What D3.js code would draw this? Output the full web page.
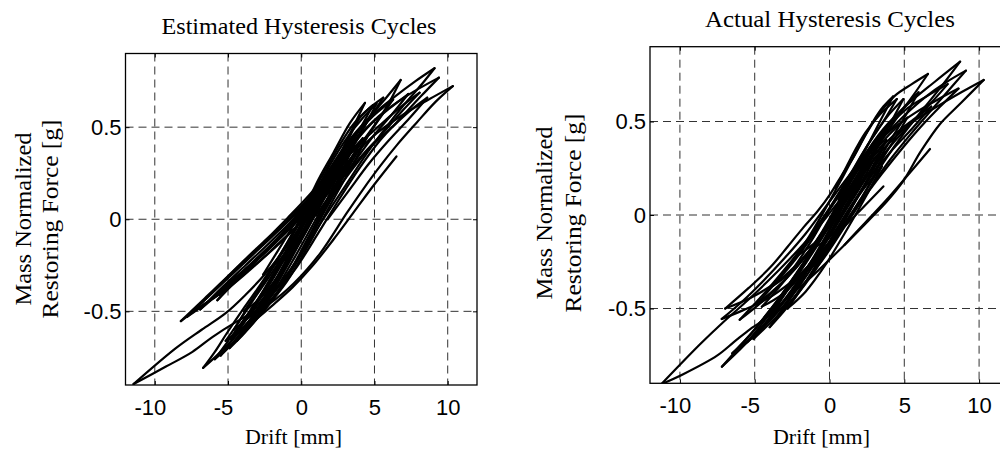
<!DOCTYPE html>
<html>
<head>
<meta charset="utf-8">
<script src="https://cdn.jsdelivr.net/npm/d3@7"></script>
<style>
  body { margin: 0; background: #fff; }
  svg { display: block; }
</style>
</head>
<body>
<div id="area"></div>
<script>
var driftTicks = [-10, -5, 0, 5, 10]
var forceTicks = [-0.5, 0, 0.5]
var driftDomain = [-12, 12]
var forceDomain = [-0.9, 0.9]

// estimated cycles, one array per loop, [drift mm, force g]
var estimatedLoops = [
  [[10.35,0.723],[9.2,0.64],[7.86,0.523],[6.5,0.40],[5.37,0.287],[4.2,0.16],[3.1,0.033],[1.29,-0.185],[-0.52,-0.349],[-2.2,-0.46],[-3.6,-0.52],[-4.5,-0.56],[-6.07,-0.64],[-7.43,-0.72],[-9.24,-0.80],[-11.45,-0.895],[-8.56,-0.70],[-6.8,-0.60],[-5.16,-0.51],[-3.8,-0.41],[-2.5,-0.30],[-1.2,-0.17],[0.2,-0.01],[1.8,0.17],[3.4,0.33],[5.2,0.47],[7,0.57],[8.7,0.65],[10.35,0.723]],
  [[-6.70,-0.807],[-5.9,-0.72],[-5.05,-0.615],[-3.9,-0.48],[-2.79,-0.355],[-1.2,-0.16],[0.39,0.07],[1.6,0.23],[3.0,0.40],[4.5,0.54],[6.3,0.66],[7.8,0.75],[9.10,0.820],[8.3,0.74],[7.0,0.62],[5.8,0.50],[4.5,0.36],[3.0,0.18],[1.5,0.0],[0,-0.19],[-1.5,-0.36],[-3.0,-0.50],[-4.3,-0.62],[-5.5,-0.72],[-6.70,-0.807]],
  [[-5.16,-0.66],[-4.2,-0.55],[-3.2,-0.43],[-2.0,-0.29],[-0.8,-0.14],[0.6,0.05],[2.0,0.24],[3.6,0.42],[5.3,0.56],[7.2,0.67],[9.40,0.769],[8.2,0.67],[6.8,0.55],[5.4,0.43],[4.0,0.28],[2.6,0.11],[1.2,-0.07],[-0.4,-0.27],[-2.0,-0.43],[-3.5,-0.56],[-5.16,-0.66]],
  [[-8.22,-0.553],[-6.6,-0.43],[-5.05,-0.313],[-3.6,-0.20],[-2.33,-0.105],[-0.9,0.01],[0.3,0.11],[1.3,0.20],[2.2,0.29],[3.3,0.42],[4.6,0.55],[5.8,0.66],[6.79,0.756],[5.9,0.62],[4.9,0.50],[3.8,0.38],[2.4,0.22],[1.0,0.08],[-0.7,-0.07],[-2.3,-0.19],[-3.8,-0.29],[-5.3,-0.39],[-6.8,-0.47],[-8.22,-0.553]],
  [[-7.43,-0.504],[-6.0,-0.39],[-4.6,-0.28],[-3.0,-0.16],[-1.5,-0.05],[0,0.07],[1.2,0.17],[2.5,0.28],[4.0,0.41],[5.5,0.52],[6.8,0.61],[8.08,0.687],[6.8,0.58],[5.6,0.47],[4.3,0.36],[3.0,0.24],[1.6,0.12],[0.2,0.0],[-1.4,-0.12],[-3.0,-0.24],[-4.6,-0.35],[-6.0,-0.43],[-7.43,-0.504]],
  [[-4.6,-0.60],[-3.6,-0.47],[-2.4,-0.32],[-1.2,-0.16],[0,0.0],[1.2,0.16],[2.4,0.32],[3.6,0.45],[4.9,0.56],[6.27,0.65],[5.2,0.53],[4.2,0.41],[3.0,0.25],[1.8,0.08],[0.6,-0.10],[-0.8,-0.28],[-2.2,-0.42],[-3.4,-0.52],[-4.6,-0.60]],
  [[4.35,0.632],[3.33,0.523],[2.19,0.36],[1.2,0.22],[0.39,0.09],[-0.5,-0.02],[-1.8,-0.13],[-3.24,-0.24],[-4.5,-0.34],[-5.73,-0.44],[-4.8,-0.36],[-3.4,-0.25],[-2.0,-0.14],[-0.8,-0.03],[0.3,0.08],[1.3,0.18],[2.3,0.30],[3.3,0.46],[4.35,0.632]],
  [[-3.9,-0.50],[-2.8,-0.37],[-1.6,-0.22],[-0.4,-0.06],[0.8,0.12],[2.0,0.30],[3.2,0.45],[4.2,0.55],[5.14,0.627],[4.3,0.50],[3.3,0.36],[2.2,0.20],[1.0,0.03],[-0.2,-0.14],[-1.5,-0.30],[-2.7,-0.42],[-3.9,-0.50]],
  [[6.5,0.341],[5.0,0.19],[3.6,0.04],[2.2,-0.11],[0.8,-0.25],[-0.6,-0.37],[-2.0,-0.47],[-3.2,-0.55]],
  [[-4.8,-0.65],[-3.5,-0.50],[-2.0,-0.32],[-0.5,-0.12],[1.0,0.10],[2.5,0.30],[1.2,0.08],[-0.3,-0.15],[-1.8,-0.36],[-3.3,-0.53],[-4.8,-0.65]],
  [[-4.4,-0.66],[-3.0,-0.50],[-1.6,-0.32],[0,-0.10],[1.5,0.12],[3.0,0.32],[4.6,0.46],[3.4,0.28],[2.0,0.08],[0.5,-0.14],[-1.0,-0.34],[-2.6,-0.50],[-4.4,-0.66]],
  [[-2.6,-0.30],[-1.2,-0.12],[0.2,0.06],[1.6,0.22],[3.0,0.36],[1.8,0.18],[0.4,0.0],[-1.0,-0.18],[-2.6,-0.30]],
  [[-1.5,-0.25],[-0.2,-0.06],[1.0,0.12],[2.4,0.30],[3.6,0.44],[2.4,0.24],[1.0,0.04],[-0.2,-0.13],[-1.5,-0.25]],
  [[-7.8,-0.53],[-6.2,-0.41],[-4.6,-0.29],[-3.0,-0.17],[-1.4,-0.05],[0,0.06],[1.4,0.18],[2.6,0.30],[1.2,0.14],[-0.3,0.0],[-1.8,-0.12],[-3.4,-0.24],[-5.0,-0.35],[-6.4,-0.45],[-7.8,-0.53]],
  [[-6.9,-0.49],[-5.4,-0.37],[-3.8,-0.25],[-2.2,-0.13],[-0.8,-0.02],[0.6,0.10],[1.8,0.21],[0.4,0.06],[-1.1,-0.07],[-2.7,-0.19],[-4.2,-0.30],[-5.6,-0.40],[-6.9,-0.49]],
  [[-5.6,-0.41],[-4.2,-0.30],[-2.6,-0.18],[-1.0,-0.05],[0.4,0.08],[1.6,0.19],[0.2,0.03],[-1.4,-0.10],[-3.0,-0.22],[-4.4,-0.32],[-5.6,-0.41]],
  [[-5.5,-0.74],[-4.4,-0.62],[-3.2,-0.48],[-1.9,-0.32],[-0.6,-0.14],[0.8,0.06],[2.2,0.25],[3.6,0.40],[2.4,0.20],[1.0,0.0],[-0.4,-0.20],[-1.9,-0.40],[-3.2,-0.54],[-4.4,-0.65],[-5.5,-0.74]],
  [[-4.9,-0.70],[-3.8,-0.58],[-2.6,-0.44],[-1.3,-0.27],[0,-0.08],[1.4,0.12],[2.8,0.30],[4.0,0.42],[2.8,0.22],[1.5,0.03],[0.1,-0.17],[-1.3,-0.36],[-2.7,-0.51],[-3.9,-0.62],[-4.9,-0.70]],
  [[-4.2,-0.58],[-3.0,-0.44],[-1.8,-0.28],[-0.5,-0.10],[0.8,0.10],[2.0,0.26],[0.8,0.04],[-0.6,-0.16],[-2.0,-0.36],[-3.1,-0.48],[-4.2,-0.58]],
  [[-3.3,-0.52],[-2.1,-0.38],[-0.9,-0.21],[0.4,-0.02],[1.7,0.17],[3.0,0.33],[4.2,0.44],[3.0,0.27],[1.7,0.07],[0.4,-0.13],[-1.0,-0.31],[-2.2,-0.43],[-3.3,-0.52]],
  [[1.0,0.10],[2.2,0.25],[3.5,0.40],[4.8,0.52],[6.0,0.60],[7.3,0.68],[6.2,0.57],[5.0,0.46],[3.8,0.33],[2.5,0.19],[1.0,0.02]],
  [[0.6,0.12],[1.6,0.26],[2.6,0.40],[3.6,0.52],[4.6,0.60],[5.6,0.66],[4.6,0.54],[3.6,0.42],[2.5,0.28],[1.4,0.14],[0.6,0.05]],
  [[1.5,0.05],[3.0,0.22],[4.6,0.38],[6.2,0.50],[7.6,0.60],[8.6,0.66],[7.4,0.55],[6.0,0.43],[4.6,0.30],[3.2,0.15],[1.8,0.0]],
  [[-3.6,-0.56],[-2.4,-0.42],[-1.1,-0.25],[0.2,-0.06],[1.5,0.13],[2.7,0.28],[1.5,0.06],[0.2,-0.14],[-1.1,-0.33],[-2.4,-0.48],[-3.6,-0.56]],
  [[-2.0,-0.40],[-0.8,-0.23],[0.5,-0.04],[1.8,0.15],[3.2,0.31],[2.0,0.12],[0.7,-0.08],[-0.6,-0.27],[-2.0,-0.40]],
  [[-0.5,0.02],[0.8,0.14],[2.0,0.27],[3.0,0.40],[4.0,0.55],[4.9,0.62],[4.0,0.49],[3.0,0.35],[1.9,0.21],[0.7,0.08],[-0.5,0.02]],
  [[-5.9,-0.76],[-4.8,-0.64],[-3.7,-0.52],[-2.5,-0.38],[-1.3,-0.22],[0,-0.04],[-1.2,-0.26],[-2.5,-0.44],[-3.7,-0.58],[-4.8,-0.68],[-5.9,-0.76]]
]

// measured (actual) cycles
var actualLoops = [
  [[10.31,0.722],[8.8,0.60],[7.39,0.487],[6.1,0.34],[4.94,0.183],[3.8,0.07],[2.6,-0.03],[1.0,-0.16],[-0.8,-0.30],[-2.6,-0.43],[-4.63,-0.574],[-5.3,-0.61],[-6.4,-0.68],[-7.52,-0.752],[-9.75,-0.85],[-11.25,-0.905],[-8.64,-0.69],[-7.2,-0.58],[-5.8,-0.48],[-4.2,-0.36],[-2.6,-0.23],[-1.0,-0.09],[0.6,0.07],[2.2,0.22],[3.8,0.37],[5.6,0.50],[7.4,0.59],[8.9,0.66],[10.31,0.722]],
  [[-7.19,-0.811],[-6.3,-0.73],[-5.2,-0.63],[-4.0,-0.51],[-2.8,-0.38],[-1.5,-0.23],[-0.2,-0.06],[1.0,0.12],[2.2,0.30],[3.6,0.46],[5.2,0.59],[7.0,0.71],[8.73,0.82],[7.6,0.70],[6.4,0.58],[5.0,0.44],[3.6,0.28],[2.2,0.10],[0.8,-0.07],[-0.8,-0.24],[-2.4,-0.42],[-3.8,-0.55],[-4.85,-0.63],[-6.0,-0.72],[-7.19,-0.811]],
  [[-5.08,-0.663],[-4.2,-0.57],[-3.2,-0.45],[-2.0,-0.30],[-0.8,-0.14],[0.4,0.03],[1.6,0.20],[3.0,0.36],[4.6,0.50],[6.4,0.63],[7.8,0.71],[9.12,0.772],[8.0,0.67],[6.8,0.56],[5.4,0.43],[4.0,0.29],[2.6,0.13],[1.2,-0.04],[-0.2,-0.21],[-1.6,-0.36],[-3.0,-0.50],[-4.0,-0.58],[-5.08,-0.663]],
  [[-6.97,-0.50],[-5.4,-0.39],[-3.96,-0.28],[-2.8,-0.17],[-1.74,-0.066],[-0.8,0.02],[0.05,0.112],[0.8,0.21],[1.6,0.308],[2.5,0.44],[3.4,0.55],[4.4,0.64],[5.5,0.70],[6.58,0.754],[5.6,0.64],[4.6,0.53],[3.5,0.40],[2.3,0.25],[1.0,0.08],[-0.4,-0.09],[-1.9,-0.24],[-3.4,-0.35],[-5.2,-0.44],[-6.97,-0.50]],
  [[-7.2,-0.556],[-5.8,-0.46],[-4.4,-0.35],[-3.0,-0.23],[-1.6,-0.10],[-0.2,0.05],[1.2,0.20],[2.6,0.34],[4.2,0.46],[5.8,0.55],[7.3,0.62],[8.62,0.676],[7.4,0.58],[6.2,0.48],[4.9,0.36],[3.5,0.22],[2.0,0.06],[0.5,-0.10],[-1.0,-0.24],[-2.6,-0.36],[-4.2,-0.45],[-5.8,-0.51],[-7.2,-0.556]],
  [[-4.85,-0.476],[-3.8,-0.38],[-2.6,-0.26],[-1.4,-0.12],[-0.3,0.03],[0.8,0.19],[1.8,0.34],[2.94,0.504],[3.6,0.58],[4.25,0.634],[3.5,0.52],[2.6,0.38],[1.6,0.22],[0.6,0.07],[-0.5,-0.09],[-1.7,-0.23],[-2.9,-0.34],[-4.0,-0.42],[-4.85,-0.476]],
  [[-4.52,-0.49],[-3.4,-0.39],[-2.2,-0.26],[-1.0,-0.11],[0.2,0.06],[1.4,0.22],[2.6,0.38],[3.8,0.52],[4.94,0.62],[4.0,0.48],[3.0,0.33],[1.9,0.17],[0.8,0.01],[-0.4,-0.16],[-1.7,-0.30],[-3.1,-0.42],[-4.52,-0.49]],
  [[-3.5,-0.55],[-2.4,-0.42],[-1.2,-0.26],[0,-0.08],[1.2,0.11],[2.4,0.29],[3.6,0.44],[4.8,0.56],[5.95,0.656],[5.0,0.52],[4.0,0.39],[2.9,0.24],[1.7,0.07],[0.4,-0.12],[-1.0,-0.30],[-2.3,-0.44],[-3.5,-0.55]],
  [[6.72,0.353],[5.2,0.21],[3.8,0.08],[2.4,-0.04],[1.0,-0.16]],
  [[3.6,0.153],[2.0,0.02],[0.3,-0.12],[-1.2,-0.25]],
  [[-3.0,-0.42],[-1.6,-0.26],[0,-0.06],[1.6,0.14],[3.0,0.30],[1.6,0.10],[0.2,-0.08],[-1.4,-0.27],[-3.0,-0.42]],
  [[-2.2,-0.22],[-0.8,-0.06],[0.6,0.10],[2.0,0.26],[3.4,0.40],[2.2,0.22],[0.8,0.04],[-0.6,-0.12],[-2.2,-0.22]],
  [[-6.0,-0.56],[-4.6,-0.44],[-3.2,-0.31],[-1.8,-0.17],[-0.4,-0.01],[1.0,0.16],[2.4,0.32],[3.8,0.45],[2.6,0.28],[1.2,0.11],[-0.2,-0.06],[-1.6,-0.22],[-3.0,-0.35],[-4.6,-0.47],[-6.0,-0.56]],
  [[-5.5,-0.68],[-4.3,-0.56],[-3.0,-0.42],[-1.7,-0.26],[-0.4,-0.09],[1.0,0.09],[2.4,0.26],[3.8,0.40],[2.6,0.22],[1.2,0.04],[-0.2,-0.14],[-1.6,-0.31],[-3.0,-0.46],[-4.3,-0.59],[-5.5,-0.68]],
  [[-4.0,-0.60],[-2.8,-0.46],[-1.6,-0.30],[-0.3,-0.12],[1.0,0.06],[2.4,0.24],[3.6,0.36],[2.4,0.17],[1.1,-0.01],[-0.3,-0.20],[-1.7,-0.37],[-2.9,-0.50],[-4.0,-0.60]],
  [[-2.6,-0.36],[-1.3,-0.21],[0,-0.04],[1.3,0.14],[2.6,0.30],[4.0,0.43],[5.2,0.52],[4.0,0.36],[2.7,0.20],[1.3,0.03],[0,-0.14],[-1.3,-0.28],[-2.6,-0.36]],
  [[-1.5,-0.30],[-0.2,-0.14],[1.1,0.04],[2.4,0.20],[3.7,0.33],[2.5,0.14],[1.2,-0.03],[-0.2,-0.20],[-1.5,-0.30]],
  [[1.0,0.14],[2.4,0.31],[3.8,0.46],[5.2,0.57],[6.6,0.64],[7.9,0.70],[6.8,0.60],[5.6,0.50],[4.2,0.38],[2.8,0.24],[1.4,0.08]],
  [[0.4,0.14],[1.4,0.30],[2.4,0.44],[3.4,0.54],[4.5,0.62],[3.6,0.50],[2.6,0.38],[1.6,0.24],[0.6,0.08]],
  [[-6.5,-0.74],[-5.3,-0.64],[-4.0,-0.52],[-2.7,-0.38],[-1.4,-0.22],[0,-0.04],[1.4,0.14],[0,-0.10],[-1.4,-0.27],[-2.8,-0.43],[-4.1,-0.56],[-5.3,-0.66],[-6.5,-0.74]],
  [[-4.7,-0.58],[-3.5,-0.46],[-2.2,-0.31],[-0.9,-0.15],[0.4,0.02],[1.7,0.19],[3.0,0.34],[1.8,0.14],[0.5,-0.04],[-0.9,-0.22],[-2.3,-0.38],[-3.5,-0.50],[-4.7,-0.58]],
  [[-3.8,-0.38],[-2.5,-0.26],[-1.2,-0.12],[0.1,0.04],[1.4,0.20],[2.7,0.36],[3.9,0.48],[2.8,0.32],[1.5,0.15],[0.2,-0.02],[-1.1,-0.17],[-2.5,-0.30],[-3.8,-0.38]],
  [[-1.2,-0.18],[0.1,-0.02],[1.4,0.15],[2.8,0.30],[4.2,0.42],[5.6,0.51],[6.8,0.58],[5.5,0.46],[4.1,0.34],[2.7,0.20],[1.3,0.03],[0,-0.12],[-1.2,-0.18]],
  [[-2.8,-0.50],[-1.6,-0.36],[-0.4,-0.20],[0.9,-0.03],[2.2,0.13],[3.5,0.26],[2.3,0.08],[1.0,-0.10],[-0.3,-0.27],[-1.6,-0.41],[-2.8,-0.50]]
]

var serif = "'Liberation Serif', 'Times New Roman', serif"
var sans = "'Liberation Sans', Arial, sans-serif"

var svg = d3.select("#area")
  .append("svg")
    .attr("width", 1000)
    .attr("height", 453)

svg.append("rect").attr("width", 1000).attr("height", 453).attr("fill", "#fff")

var panels = [
  { id: "est", left: 125.5, right: 477, top: 53.5, bottom: 385,
    title: "Estimated Hysteresis Cycles", titleX: 299, titleY: 34, titleLen: 275,
    ylabX: [31, 58], ylabY: 219, xlabX: 293.5, loops: estimatedLoops },
  { id: "act", left: 650, right: 1009, top: 46.7, bottom: 383.3,
    title: "Actual Hysteresis Cycles", titleX: 830, titleY: 27, titleLen: 250,
    ylabX: [552, 581], ylabY: 213, xlabX: 821.5, loops: actualLoops }
]

// split a loop where the drift changes direction so the tips stay sharp
function branches(loop) {
  var out = [], cur = [loop[0]], dir = 0
  for (var i = 1; i < loop.length; i++) {
    var s = Math.sign(loop[i][0] - loop[i - 1][0])
    if (dir !== 0 && s !== 0 && s !== dir) {
      out.push(cur)
      cur = [loop[i - 1]]
    }
    if (s !== 0) dir = s
    cur.push(loop[i])
  }
  out.push(cur)
  return out
}

panels.forEach(function(p) {
  var x = d3.scaleLinear().domain(driftDomain).range([p.left, p.right])
  var y = d3.scaleLinear().domain(forceDomain).range([p.bottom, p.top])

  svg.append("defs").append("clipPath").attr("id", "clip_" + p.id)
    .append("rect")
    .attr("x", p.left).attr("y", p.top)
    .attr("width", p.right - p.left).attr("height", p.bottom - p.top)

  // dashed grid
  var grid = svg.append("g")
    .attr("stroke", "#333")
    .attr("stroke-width", 1)
    .attr("stroke-dasharray", "8,5")
  grid.selectAll(".gx").data(driftTicks).enter().append("line")
    .attr("x1", function(d) { return x(d) }).attr("x2", function(d) { return x(d) })
    .attr("y1", p.top).attr("y2", p.bottom)
  grid.selectAll(".gy").data(forceTicks).enter().append("line")
    .attr("y1", function(d) { return y(d) }).attr("y2", function(d) { return y(d) })
    .attr("x1", p.left).attr("x2", p.right)

  // hysteresis curves
  var line = d3.line()
    .x(function(d) { return x(d[0]) })
    .y(function(d) { return y(d[1]) })
    .curve(d3.curveCatmullRom.alpha(0.5))

  var segs = []
  p.loops.forEach(function(l) { segs = segs.concat(branches(l)) })

  svg.append("g")
    .attr("clip-path", "url(#clip_" + p.id + ")")
    .selectAll("path")
    .data(segs)
    .enter()
    .append("path")
      .attr("d", line)
      .attr("fill", "none")
      .attr("stroke", "#000")
      .attr("stroke-width", 2.2)
      .attr("stroke-linejoin", "round")
      .attr("stroke-linecap", "round")

  // axes, ticks point inward like matlab
  var fmt = function(d) { return String(d) }
  var xAxis = svg.append("g")
    .attr("transform", "translate(0," + p.bottom + ")")
    .call(d3.axisBottom(x).tickValues(driftTicks).tickSize(-4).tickPadding(14).tickFormat(fmt))
  svg.append("g")
    .attr("transform", "translate(0," + p.top + ")")
    .call(d3.axisTop(x).tickValues(driftTicks).tickSize(-4).tickFormat(""))
  var yAxis = svg.append("g")
    .attr("transform", "translate(" + p.left + ",0)")
    .call(d3.axisLeft(y).tickValues(forceTicks).tickSize(-4).tickPadding(4).tickFormat(fmt))
  svg.append("g")
    .attr("transform", "translate(" + p.right + ",0)")
    .call(d3.axisRight(y).tickValues(forceTicks).tickSize(-4).tickFormat(""))

  svg.selectAll(".domain").remove()
  svg.selectAll(".tick line").attr("stroke", "#000")

  xAxis.selectAll("text")
    .style("font-family", sans)
    .style("font-size", "22px")
    .attr("fill", "#000")
    .attr("dx", function(d) { return d < 0 ? -5 : 0 })
  yAxis.selectAll("text")
    .style("font-family", sans)
    .style("font-size", "22px")
    .attr("fill", "#000")

  // box
  svg.append("rect")
    .attr("x", p.left).attr("y", p.top)
    .attr("width", p.right - p.left).attr("height", p.bottom - p.top)
    .attr("fill", "none")
    .attr("stroke", "#000")
    .attr("stroke-width", 1.3)

  // title and labels
  svg.append("text")
    .attr("x", p.titleX).attr("y", p.titleY)
    .attr("text-anchor", "middle")
    .style("font-family", serif)
    .style("font-size", "23px")
    .attr("textLength", p.titleLen)
    .attr("lengthAdjust", "spacingAndGlyphs")
    .text(p.title)

  svg.append("text")
    .attr("x", p.xlabX).attr("y", 444)
    .attr("text-anchor", "middle")
    .style("font-family", serif)
    .style("font-size", "22px")
    .attr("textLength", 97)
    .attr("lengthAdjust", "spacingAndGlyphs")
    .text("Drift [mm]")

  var ylab = ["Mass Normalized", "Restoring Force [g]"]
  var ylen = [173, 199]
  ylab.forEach(function(t, i) {
    svg.append("text")
      .attr("transform", "translate(" + p.ylabX[i] + "," + p.ylabY + ") rotate(-90)")
      .attr("text-anchor", "middle")
      .style("font-family", serif)
      .style("font-size", "23px")
      .attr("textLength", ylen[i])
      .attr("lengthAdjust", "spacingAndGlyphs")
      .text(t)
  })
})
</script>
</body>
</html>
